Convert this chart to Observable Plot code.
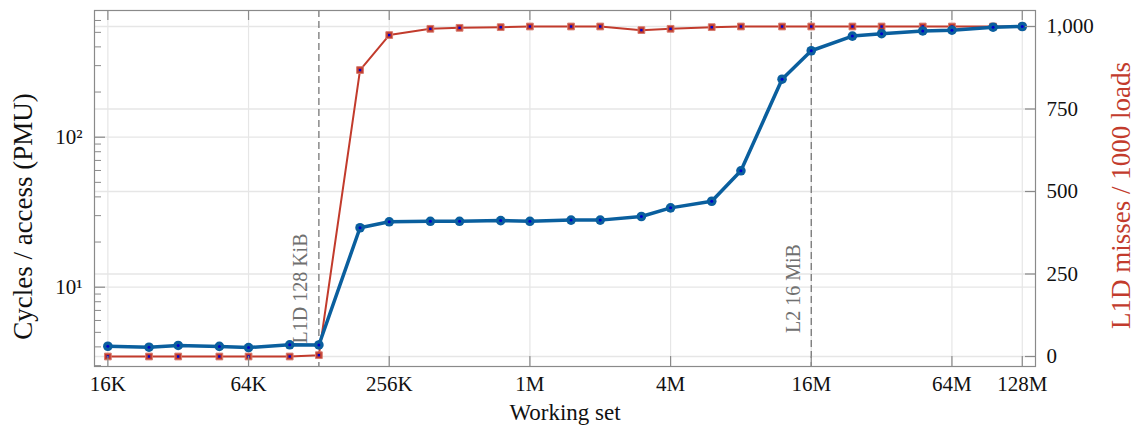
<!DOCTYPE html>
<html><head><meta charset="utf-8">
<script src="https://cdn.jsdelivr.net/npm/d3@7"></script>
<script src="https://cdn.jsdelivr.net/npm/@observablehq/plot@0.6"></script>
<style>
html,body{margin:0;padding:0;background:#fff}
#chart svg{display:block}
#chart svg text{font-family:"Liberation Serif","Times New Roman",serif}
</style>
</head><body><div id="chart"></div>
<script>
// ---- data ----
const workingSetKiB = [16,24,32,48,64,96,128,192,256,384,512,768,1024,1536,2048,3072,4096,6144,8192,12288,16384,24576,32768,49152,65536,98304,131072];
const cyclesPerAccess = [4.04,3.98,4.09,4.03,3.96,4.13,4.12,24.9,27.3,27.5,27.5,27.8,27.5,28.0,28.0,29.6,33.8,37.4,59.7,243.6,377,472,490,511,517,541,547];
const l1dMissesPer1000 = [0,0,0,0,0,0,4,868,974,993,996,998,1000,1000,1000,989,993,998,1000,1000,1000,1000,1000,1000,1000,1000,1000];
const xTickValues = [16,64,256,1024,4096,16384,65536,131072];
const xTickLabels = ["16K","64K","256K","1M","4M","16M","64M","128M"];
const yMajorTicks = [10,100];
const yMajorLabels = ["10¹","10²"];
const yMinorTicks = [3,4,5,6,7,8,9,20,30,40,50,60,70,80,90,200,300,400,500,600];
const rightTicks = [0,250,500,750,1000];
const rightTickLabels = ["0","250","500","750","1,000"];
const cacheSizesKiB = [128,16384];
const cacheLabels = ["L1D 128 KiB","L2 16 MiB"];

// ---- layout / style ----
const W = 1136, H = 435, ML = 94, MR = 101, MT = 10, MB = 69;
const innerW = W - ML - MR, innerH = H - MT - MB;
const SERIF = "'Liberation Serif', 'Times New Roman', serif";
const BLUE = "#0a5f9e", RED = "#c23b2c", DOTC = "#0000cc", FRAME = "#8a8a8a", GRID = "#e6e6e6";
const yDomain = [2.96, 699.3];
const rDomain = [-30.3, 1048.5];
const xDomain = [16 * 2 ** -0.19, 131072 * 2 ** 0.188];

// map right-axis (linear) values into the left (log) y scale
const lnMap = d3.scaleLinear().domain(rDomain).range([Math.log(yDomain[0]), Math.log(yDomain[1])]);
const toLeft = v => Math.exp(lnMap(v));

const rows = workingSetKiB.map((ws, i) => ({ws, cyc: cyclesPerAccess[i], miss: l1dMissesPer1000[i]}));
const xFmt = new Map(xTickValues.map((v, i) => [v, xTickLabels[i]]));
const yFmt = new Map(yMajorTicks.map((v, i) => [v, yMajorLabels[i]]));
const rightTickPos = rightTicks.map(toLeft);

const chart = Plot.plot({
  width: W, height: H,
  marginLeft: ML, marginRight: MR, marginTop: MT, marginBottom: MB,
  style: {fontFamily: SERIF, fontSize: "21px", color: "#111", background: "#fff"},
  x: {type: "log", base: 2, domain: xDomain},
  y: {type: "log", domain: yDomain},
  marks: [
    // grid
    Plot.ruleX(xTickValues, {stroke: GRID, strokeWidth: 1.2}),
    Plot.ruleY([...yMajorTicks, ...rightTickPos], {stroke: GRID, strokeWidth: 1.3}),
    // cache size markers
    Plot.ruleX(cacheSizesKiB, {stroke: "#777", strokeWidth: 1.3, strokeDasharray: "7,4"}),
    Plot.text(cacheSizesKiB, {x: d => d, text: (d, i) => cacheLabels[i], frameAnchor: "middle", dy: 100, dx: -18,
      rotate: -90, textAnchor: "middle", fill: "#707070", fontSize: 20, fontFamily: SERIF}),
    // L1D misses (right axis)
    Plot.line(rows, {x: "ws", y: d => toLeft(d.miss), stroke: RED, strokeWidth: 2}),
    Plot.dot(rows, {x: "ws", y: d => toLeft(d.miss), symbol: "square", r: 3.8, fill: RED, stroke: "#d77a6e", strokeWidth: 1}),
    Plot.dot(rows, {x: "ws", y: d => toLeft(d.miss), symbol: "square", r: 1.4, fill: DOTC}),
    // cycles/access (left axis)
    Plot.line(rows, {x: "ws", y: "cyc", stroke: BLUE, strokeWidth: 3.5}),
    Plot.dot(rows, {x: "ws", y: "cyc", r: 4.8, fill: BLUE}),
    Plot.dot(rows, {x: "ws", y: "cyc", r: 1.5, fill: DOTC}),
    // frame and inward ticks
    Plot.frame({stroke: FRAME, strokeWidth: 1.2}),
    Plot.ruleX(xTickValues, {insetTop: innerH - 10, stroke: FRAME, strokeWidth: 1.2}),
    Plot.ruleX(xTickValues, {insetBottom: innerH - 10, stroke: FRAME, strokeWidth: 1.2}),
    Plot.ruleY(yMajorTicks, {insetRight: innerW - 11, stroke: FRAME, strokeWidth: 1.2}),
    Plot.ruleY(yMinorTicks, {insetRight: innerW - 7, stroke: FRAME, strokeWidth: 1}),
    Plot.ruleY(rightTickPos, {insetLeft: innerW - 10, stroke: FRAME, strokeWidth: 1.2}),
    // tick labels
    Plot.axisX(xTickValues, {tickFormat: d => xFmt.get(d), tickSize: 0, tickPadding: 10, label: null, fontSize: 21, fontFamily: SERIF}),
    Plot.axisY(yMajorTicks, {anchor: "left", tickFormat: d => yFmt.get(d), tickSize: 0, tickPadding: 12, label: null, fontSize: 21, fontFamily: SERIF}),
    Plot.text(rightTicks, {y: d => toLeft(d), text: (d, i) => rightTickLabels[i], frameAnchor: "right", dx: 11,
      textAnchor: "start", fontSize: 21, fill: "#111", fontFamily: SERIF}),
    // axis titles
    Plot.text(["Working set"], {frameAnchor: "bottom", dy: 53, fontSize: 23, fill: "#111", textAnchor: "middle", fontFamily: SERIF}),
    Plot.text(["Cycles / access (PMU)"], {frameAnchor: "left", rotate: -90, dx: -71, dy: 28, fontSize: 27, fill: "#111", textAnchor: "middle", fontFamily: SERIF}),
    Plot.text(["L1D misses / 1000 loads"], {frameAnchor: "right", rotate: -90, dx: 86, dy: 7, fontSize: 27, fill: RED, textAnchor: "middle", fontFamily: SERIF})
  ]
});
document.getElementById("chart").appendChild(chart);
</script>
</body></html>
